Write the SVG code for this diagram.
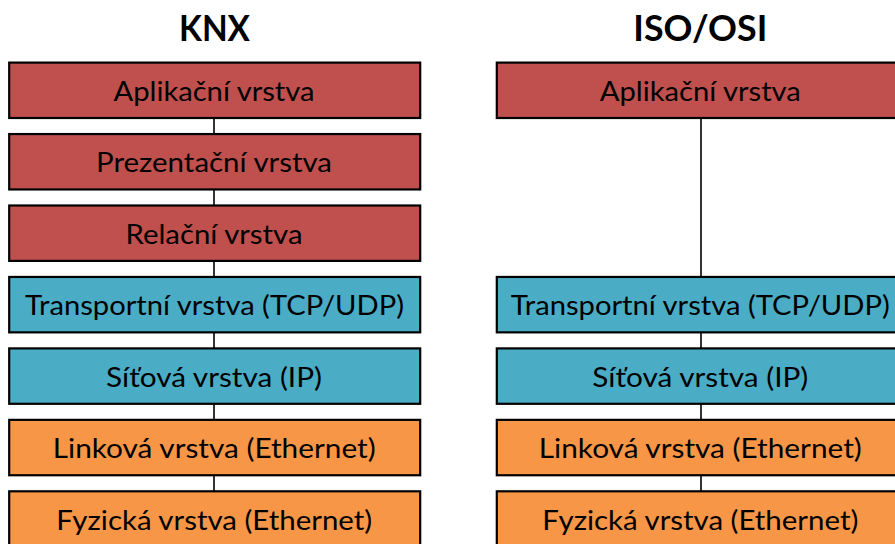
<svg xmlns="http://www.w3.org/2000/svg" width="895" height="544" viewBox="0 0 895 544">
  <style>
    .box { stroke: #000; stroke-width: 2.2; }
    .app { fill: #C0504D; }
    .net { fill: #4BACC6; }
    .lnk { fill: #F79646; }
    .lbl { font-family: Lato, "Open Sans", "Liberation Sans", sans-serif; font-size: 27px; fill: #000; text-anchor: middle; }
    .ttl { font-family: Lato, "Open Sans", "Liberation Sans", sans-serif; font-size: 36px; font-weight: bold; fill: #000; text-anchor: middle; }
    .wire { stroke: #000; stroke-width: 1.6; fill: none; }
  </style>
  <rect width="895" height="544" fill="#fff"/>

  <!-- column headings -->
  <text class="ttl" x="214.5" y="41" textLength="71" lengthAdjust="spacingAndGlyphs">KNX</text>
  <text class="ttl" x="700.3" y="41" textLength="134" lengthAdjust="spacingAndGlyphs">ISO/OSI</text>

  <!-- connectors between stacked layers -->
  <g id="connectors">
    <line class="wire" x1="214" y1="118" x2="214" y2="134"/>
    <line class="wire" x1="214" y1="189.5" x2="214" y2="205.5"/>
    <line class="wire" x1="214" y1="261" x2="214" y2="277"/>
    <line class="wire" x1="214" y1="332.5" x2="214" y2="348.5"/>
    <line class="wire" x1="214" y1="404" x2="214" y2="420"/>
    <line class="wire" x1="214" y1="475.5" x2="214" y2="491.5"/>
    <line class="wire" x1="701" y1="118" x2="701" y2="277"/>
    <line class="wire" x1="701" y1="332.5" x2="701" y2="348.5"/>
    <line class="wire" x1="701" y1="404" x2="701" y2="420"/>
    <line class="wire" x1="701" y1="475.5" x2="701" y2="491.5"/>
  </g>

  <!-- KNX stack -->
  <g id="knx-aplikacni">
    <rect class="box app" x="9.2" y="62.6" width="411" height="55.4"/>
    <text class="lbl" x="214" y="100.8" textLength="201" lengthAdjust="spacingAndGlyphs">Aplikační vrstva</text>
  </g>
  <g id="knx-prezentacni">
    <rect class="box app" x="9.2" y="134.05" width="411" height="55.4"/>
    <text class="lbl" x="214" y="172.25" textLength="236" lengthAdjust="spacingAndGlyphs">Prezentační vrstva</text>
  </g>
  <g id="knx-relacni">
    <rect class="box app" x="9.2" y="205.5" width="411" height="55.4"/>
    <text class="lbl" x="214" y="243.7" textLength="177" lengthAdjust="spacingAndGlyphs">Relační vrstva</text>
  </g>
  <g id="knx-transportni">
    <rect class="box net" x="9.2" y="276.95" width="411" height="55.4"/>
    <text class="lbl" x="214.5" y="315.15" textLength="379" lengthAdjust="spacingAndGlyphs">Transportní vrstva (TCP/UDP)</text>
  </g>
  <g id="knx-sitova">
    <rect class="box net" x="9.2" y="348.4" width="411" height="55.4"/>
    <text class="lbl" x="214" y="386.6" textLength="216" lengthAdjust="spacingAndGlyphs">Síťová vrstva (IP)</text>
  </g>
  <g id="knx-linkova">
    <rect class="box lnk" x="9.2" y="419.85" width="411" height="55.4"/>
    <text class="lbl" x="214.2" y="458.05" textLength="323" lengthAdjust="spacingAndGlyphs">Linková vrstva (Ethernet)</text>
  </g>
  <g id="knx-fyzicka">
    <rect class="box lnk" x="9.2" y="491.3" width="411" height="55.4"/>
    <text class="lbl" x="214.2" y="529.5" textLength="316" lengthAdjust="spacingAndGlyphs">Fyzická vrstva (Ethernet)</text>
  </g>

  <!-- ISO/OSI stack -->
  <g id="osi-aplikacni">
    <rect class="box app" x="496.8" y="62.6" width="411" height="55.4"/>
    <text class="lbl" x="700.3" y="100.8" textLength="201" lengthAdjust="spacingAndGlyphs">Aplikační vrstva</text>
  </g>
  <g id="osi-transportni">
    <rect class="box net" x="496.8" y="276.95" width="411" height="55.4"/>
    <text class="lbl" x="700.3" y="315.15" textLength="379" lengthAdjust="spacingAndGlyphs">Transportní vrstva (TCP/UDP)</text>
  </g>
  <g id="osi-sitova">
    <rect class="box net" x="496.8" y="348.4" width="411" height="55.4"/>
    <text class="lbl" x="700.3" y="386.6" textLength="216" lengthAdjust="spacingAndGlyphs">Síťová vrstva (IP)</text>
  </g>
  <g id="osi-linkova">
    <rect class="box lnk" x="496.8" y="419.85" width="411" height="55.4"/>
    <text class="lbl" x="700.3" y="458.05" textLength="323" lengthAdjust="spacingAndGlyphs">Linková vrstva (Ethernet)</text>
  </g>
  <g id="osi-fyzicka">
    <rect class="box lnk" x="496.8" y="491.3" width="411" height="55.4"/>
    <text class="lbl" x="700.3" y="529.5" textLength="316" lengthAdjust="spacingAndGlyphs">Fyzická vrstva (Ethernet)</text>
  </g>
</svg>
